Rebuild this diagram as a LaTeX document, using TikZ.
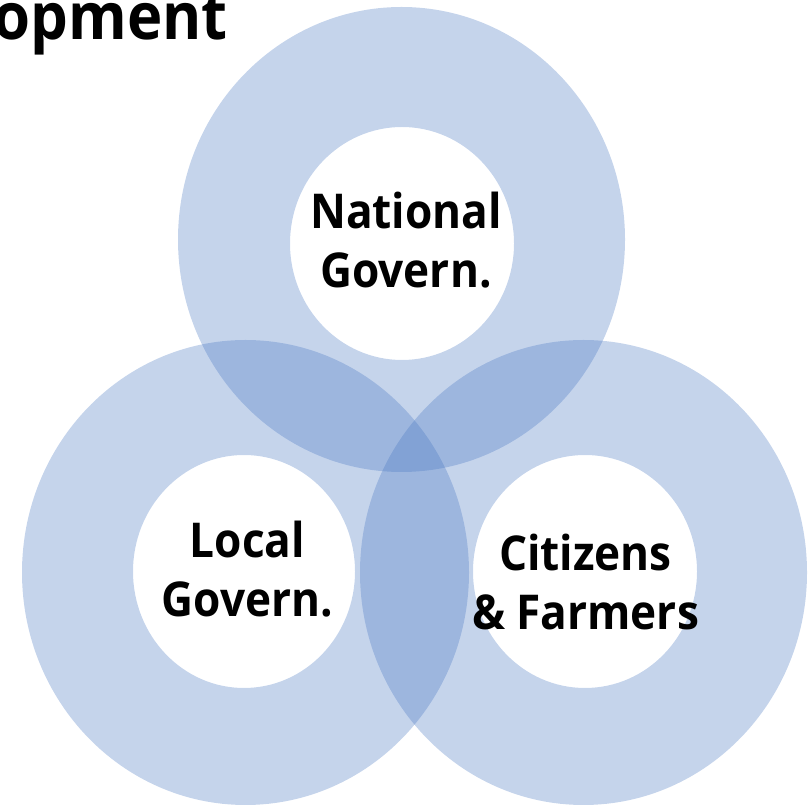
\documentclass[tikz,border=0pt]{standalone}
\usepackage{fontspec}
\setmainfont{Open Sans}[FakeStretch=0.92]
\definecolor{ringblue}{RGB}{68,116,192}
\tikzset{
  ring/.style={fill=ringblue, fill opacity=0.31, even odd rule, draw=none},
  label/.style={font=\bfseries\fontsize{48}{59}\selectfont, align=center, inner sep=0pt, text=black},
}
\begin{document}
\begin{tikzpicture}[x=1pt,y=1pt]
\useasboundingbox (0,0) rectangle (808,805);
% rings
\fill[ring] (401.5,565.5) ellipse [x radius=223.5, y radius=232.5]
            (402,561.5) ellipse [x radius=112, y radius=116.5];
\fill[ring] (245.5,232.5) ellipse [x radius=223.5, y radius=232.5]
            (244,233.5) ellipse [x radius=111, y radius=116.5];
\fill[ring] (583.5,232.5) ellipse [x radius=223.5, y radius=232.5]
            (585,233.5) ellipse [x radius=112, y radius=116.5];
% labels
\node[label] (national) at (406,565) {National\\Govern.};
\node[label] (local) at (247.5,236) {Local\\Govern.};
\node[label] (citizens) at (585.5,223) {Citizens\\\& Farmers};
% title fragment
\node[font=\bfseries\fontsize{65}{70}\selectfont, anchor=base east, inner sep=0pt] (title) at (228,765) {opment};
\end{tikzpicture}
\end{document}
